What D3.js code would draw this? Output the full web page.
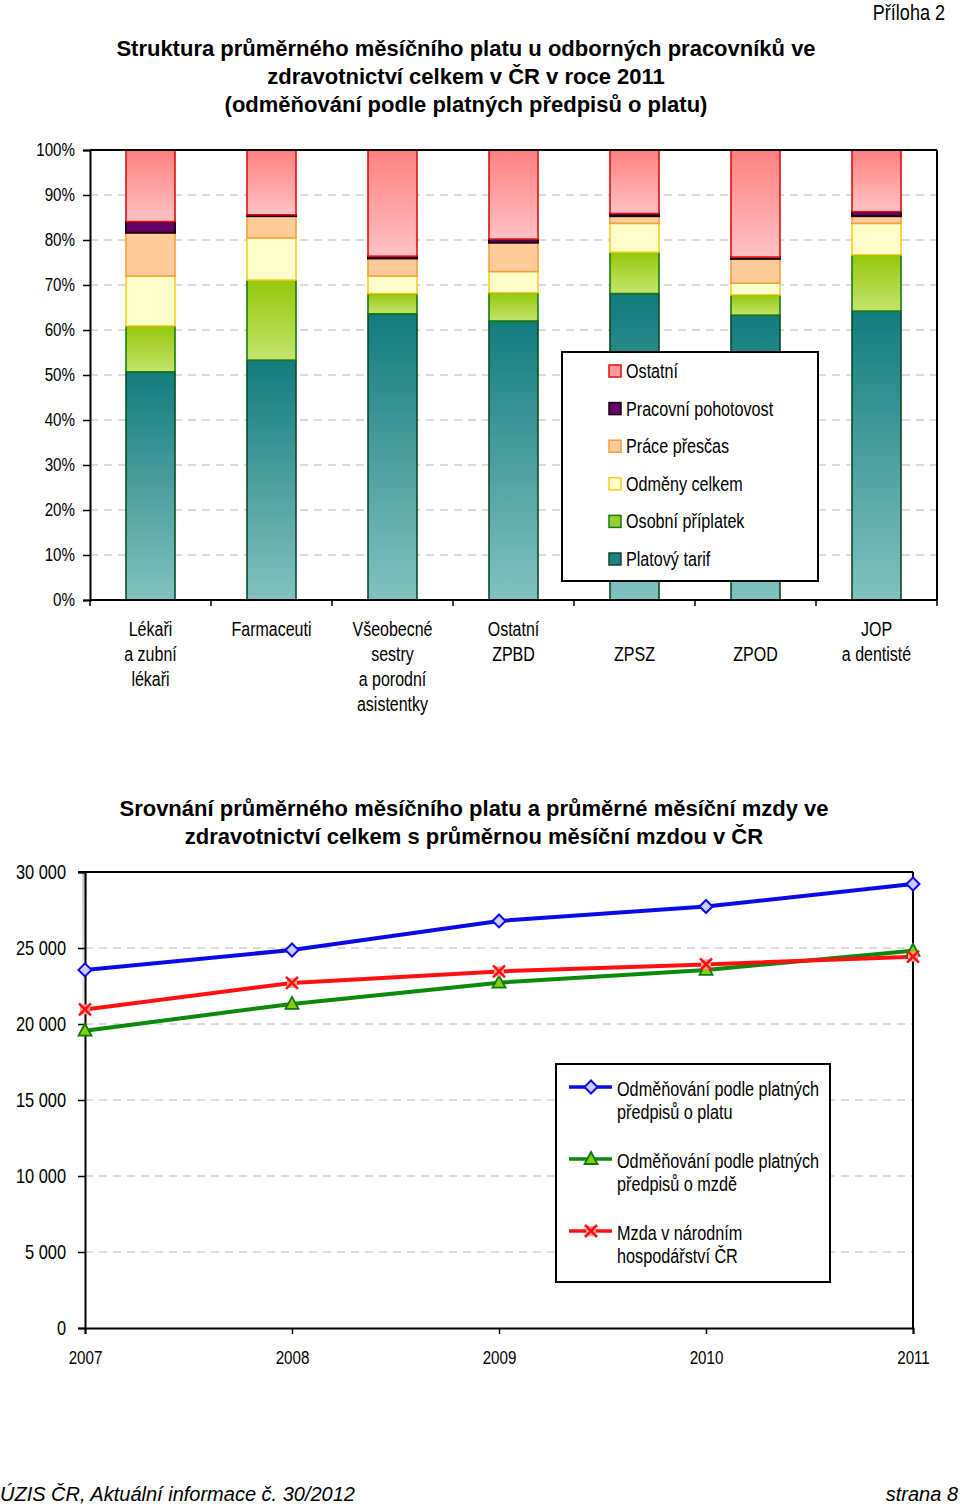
<!DOCTYPE html>
<html><head><meta charset="utf-8">
<script src="https://cdn.jsdelivr.net/npm/d3@7"></script>
<style>
body{margin:0;background:#fff;}
svg{display:block;}
</style></head>
<body>
<script>
// ---------- DATA ----------
const barCategories = [
  ["Lékaři","a zubní","lékaři"],
  ["Farmaceuti"],
  ["Všeobecné","sestry","a porodní","asistentky"],
  ["Ostatní","ZPBD"],
  ["","ZPSZ"],
  ["","ZPOD"],
  ["JOP","a dentisté"]
];
const seriesNames = ["Platový tarif","Osobní příplatek","Odměny celkem","Práce přesčas","Pracovní pohotovost","Ostatní"];
const platovyTarif      = [50.7, 53.3, 63.6, 62.0, 68.1, 63.3, 64.2];
const osobniPriplatek   = [10.2, 17.8,  4.5,  6.3,  9.2,  4.5, 12.5];
const odmenyCelkem      = [11.1,  9.4,  3.9,  4.7,  6.4,  2.6,  7.0];
const pracePrescas      = [ 9.6,  4.8,  3.9,  6.4,  1.6,  5.4,  1.6];
const pracovniPohotovost= [ 2.5,  0.3,  0.5,  0.8,  0.6,  0.4,  1.0];
const ostatni           = [15.9, 14.4, 23.6, 19.8, 14.1, 23.8, 13.7];
const pctTicks = ["0%","10%","20%","30%","40%","50%","60%","70%","80%","90%","100%"];

const years = ["2007","2008","2009","2010","2011"];
const lineNames = [["Odměňování podle platných","předpisů o platu"],["Odměňování podle platných","předpisů o mzdě"],["Mzda v národním","hospodářství ČR"]];
const platValues = [23560, 24870, 26780, 27730, 29210];
const mzdaValues = [19560, 21320, 22720, 23560, 24820];
const narodValues = [20960, 22700, 23460, 23920, 24430];
const wageTicks = [0, 5000, 10000, 15000, 20000, 25000, 30000];

// ---------- SETUP ----------
const W = 960, H = 1507;
const SX = 0.82; // horizontal squeeze to emulate Arial Narrow
const sans = "'Liberation Sans',Arial,sans-serif";
const svg = d3.select("body").append("svg").attr("width", W).attr("height", H);
const defs = svg.append("defs");

function ntext(parent, x, y, str, size, anchor){
  const g = parent.append("g").attr("transform", `translate(${x},${y}) scale(${SX},1)`);
  g.append("text").attr("text-anchor", anchor||"start")
    .style("font-family", sans).style("font-size", size+"px").attr("fill","#000").text(str);
  return g;
}
function narrowAxisText(sel, size){
  sel.selectAll(".tick text").each(function(){
    const x = +(this.getAttribute("x")||0);
    this.setAttribute("x", x/SX);
    this.setAttribute("transform", `scale(${SX},1)`);
  }).style("font-family", sans).style("font-size", size+"px").attr("fill","#000");
}

function vgrad(id, top, bottom){
  const g = defs.append("linearGradient").attr("id", id).attr("x1",0).attr("y1",0).attr("x2",0).attr("y2",1);
  g.append("stop").attr("offset","0%").attr("stop-color",top);
  g.append("stop").attr("offset","100%").attr("stop-color",bottom);
}
vgrad("gTarif", "#127c7c", "#82c2c0");
vgrad("gOsobni", "#95c80a", "#c4e46e");
vgrad("gOstatni", "#ff8080", "#ffc2c4");
vgrad("gAxisShade", "#bdbdbd", "#ffffff");

const fills = ["url(#gTarif)","url(#gOsobni)","#ffffcc","#ffcc99","#660066","url(#gOstatni)"];
const strokes = ["#0a4a26","#1a7a10","#f5d020","#f0a040","#1a0010","#e01010"];
const legendFills = ["#1e8080","#99cc33","#ffffcc","#ffcc99","#660066","#ff9999"];

// ---------- TEXT: header ----------
ntext(svg, 945, 20, "Příloha 2", 22, "end");
const t1 = ["Struktura průměrného měsíčního platu u odborných pracovníků ve","zdravotnictví celkem v ČR v roce 2011","(odměňování podle platných předpisů o platu)"];
t1.forEach((s,i)=> svg.append("text").attr("x",466).attr("y",56+i*28).attr("text-anchor","middle")
  .style("font-family",sans).style("font-weight","bold").style("font-size","22px").text(s));

// ---------- BAR CHART ----------
const bx0 = 90, bx1 = 937, by0 = 150, by1 = 600;
const xb = d3.scaleBand().domain(d3.range(barCategories.length)).range([bx0,bx1]).paddingInner(0.595).paddingOuter(0.2975);
const xbOuter = d3.scaleBand().domain(d3.range(barCategories.length)).range([bx0,bx1]);
const yb = d3.scaleLinear().domain([0,100]).range([by1,by0]);

const gb = svg.append("g");
gb.selectAll("line.grid").data(d3.range(10,100,10)).join("line")
  .attr("x1",bx0).attr("x2",bx1).attr("y1",d=>yb(d)).attr("y2",d=>yb(d))
  .attr("stroke","#b8b8b8").attr("stroke-dasharray","8,6").attr("stroke-width",1);

const tableRows = barCategories.map((c,i)=>[platovyTarif[i],osobniPriplatek[i],odmenyCelkem[i],pracePrescas[i],pracovniPohotovost[i],ostatni[i]]);
const stacked = d3.stack().keys(d3.range(6))(tableRows);
stacked.forEach((layer,k)=>{
  gb.append("g").selectAll("rect").data(layer).join("rect")
    .attr("x",(d,i)=>xb(i)).attr("width",xb.bandwidth())
    .attr("y",d=>yb(d[1])).attr("height",d=>Math.max(0,yb(d[0])-yb(d[1])))
    .attr("fill",fills[k]).attr("stroke",strokes[k]).attr("stroke-width",k===4?2:1.6);
});

gb.append("line").attr("x1",bx0).attr("x2",bx1).attr("y1",by0).attr("y2",by0).attr("stroke","#000").attr("stroke-width",2);
gb.append("line").attr("x1",bx1).attr("x2",bx1).attr("y1",by0).attr("y2",by1).attr("stroke","#000").attr("stroke-width",2);

const yAxisB = d3.axisLeft(yb).tickValues(d3.range(0,101,10)).tickFormat((d,i)=>pctTicks[i]).tickSize(7).tickPadding(8);
gb.append("g").attr("transform",`translate(${bx0},0)`).call(yAxisB)
  .call(g=>{g.select(".domain").attr("stroke","#000").attr("stroke-width",2);
    g.selectAll(".tick line").attr("stroke","#000").attr("stroke-width",1.5);
    narrowAxisText(g, 18.5);});

const xAxisG = gb.append("g").attr("transform",`translate(0,${by1})`);
xAxisG.append("line").attr("x1",bx0).attr("x2",bx1).attr("stroke","#000").attr("stroke-width",2);
xAxisG.selectAll("line.tk").data(d3.range(barCategories.length+1)).join("line")
  .attr("x1",i=>i<barCategories.length?xbOuter(i):bx1).attr("x2",i=>i<barCategories.length?xbOuter(i):bx1)
  .attr("y1",0).attr("y2",6).attr("stroke","#000").attr("stroke-width",1.5);
barCategories.forEach((lines,i)=>{
  const cx = xbOuter(i)+xbOuter.bandwidth()/2;
  lines.forEach((ln,j)=> ntext(xAxisG, cx, 36+j*25, ln, 19.5, "middle"));
});

const lg = gb.append("g");
lg.append("rect").attr("x",562).attr("y",352).attr("width",256).attr("height",229).attr("fill","#fff").attr("stroke","#000").attr("stroke-width",2);
const legOrder = [5,4,3,2,1,0];
legOrder.forEach((k,r)=>{
  const cy = 371 + r*37.6;
  lg.append("rect").attr("x",609).attr("y",cy-6).attr("width",12).attr("height",12)
    .attr("fill",legendFills[k]).attr("stroke",strokes[k]).attr("stroke-width",1.5);
  ntext(lg, 626, cy+7, seriesNames[k], 19.7, "start");
});

// ---------- LINE CHART ----------
const t2 = ["Srovnání průměrného měsíčního platu a průměrné měsíční mzdy ve","zdravotnictví celkem s průměrnou měsíční mzdou v ČR"];
t2.forEach((s,i)=> svg.append("text").attr("x",474).attr("y",816+i*28).attr("text-anchor","middle")
  .style("font-family",sans).style("font-weight","bold").style("font-size","22px").text(s));

const lx0 = 85, lx1 = 913, ly0 = 872, ly1 = 1328;
const xl = d3.scalePoint().domain(years).range([lx0,lx1]);
const yl = d3.scaleLinear().domain([0,30000]).range([ly1,ly0]);
const gl = svg.append("g");

gl.append("rect").attr("x",82).attr("y",ly0).attr("width",5).attr("height",200).attr("fill","url(#gAxisShade)").attr("opacity",0.8);

gl.selectAll("line.grid").data(wageTicks.filter(d=>d>0&&d<30000)).join("line")
  .attr("x1",lx0).attr("x2",lx1).attr("y1",d=>yl(d)).attr("y2",d=>yl(d))
  .attr("stroke","#b8b8b8").attr("stroke-dasharray","8,6");
gl.append("line").attr("x1",78).attr("x2",lx1).attr("y1",ly0).attr("y2",ly0).attr("stroke","#000").attr("stroke-width",2);
gl.append("line").attr("x1",lx1).attr("x2",lx1).attr("y1",ly0).attr("y2",ly1).attr("stroke","#000").attr("stroke-width",2);

const fmt = d=> d===0 ? "0" : d3.format(",")(d).replace(",", " ");
gl.append("g").attr("transform",`translate(${lx0},0)`)
  .call(d3.axisLeft(yl).tickValues(wageTicks).tickFormat(fmt).tickSize(7).tickPadding(12))
  .call(g=>{g.select(".domain").attr("stroke","#000").attr("stroke-width",2);
    g.selectAll(".tick line").attr("stroke","#000").attr("stroke-width",1.5);
    narrowAxisText(g, 20);});
gl.append("g").attr("transform",`translate(0,${ly1})`)
  .call(d3.axisBottom(xl).tickSize(6).tickPadding(17))
  .call(g=>{g.select(".domain").attr("stroke","#000").attr("stroke-width",2);
    g.selectAll(".tick line").attr("stroke","#000").attr("stroke-width",1.5);
    narrowAxisText(g, 18.5);});

const lineSeries = [
  {vals: platValues, color:"#0a0ae6", mk:"diamond", mfill:"#ccccff", mstroke:"#0a0ae6"},
  {vals: mzdaValues, color:"#0a8a0a", mk:"triangle", mfill:"#88cc11", mstroke:"#0a7a0a"},
  {vals: narodValues, color:"#ff1010", mk:"x", mfill:"#ff9999", mstroke:"#ff1010"}
];
const lineGen = d3.line().x((d,i)=>xl(years[i])).y(d=>yl(d));

function marker(g, type, x, y, s){
  if(type==="diamond"){
    g.append("path").attr("d",`M${x},${y-6.5}L${x+6.5},${y}L${x},${y+6.5}L${x-6.5},${y}Z`)
      .attr("fill",s.mfill).attr("stroke",s.mstroke).attr("stroke-width",2);
  } else if(type==="triangle"){
    g.append("path").attr("d",`M${x},${y-7}L${x+6.5},${y+5}L${x-6.5},${y+5}Z`)
      .attr("fill",s.mfill).attr("stroke",s.mstroke).attr("stroke-width",1.8);
  } else {
    g.append("rect").attr("x",x-5).attr("y",y-5).attr("width",10).attr("height",10).attr("fill",s.mfill);
    g.append("path").attr("d",`M${x-6},${y-6}L${x+6},${y+6}M${x-6},${y+6}L${x+6},${y-6}`)
      .attr("stroke",s.mstroke).attr("stroke-width",2.5);
  }
}
[1,2,0].forEach(k=>{
  const s = lineSeries[k];
  gl.append("path").datum(s.vals).attr("d",lineGen).attr("fill","none").attr("stroke",s.color).attr("stroke-width",4);
});
[1,2,0].forEach(k=>{
  const s = lineSeries[k];
  s.vals.forEach((v,i)=>marker(gl, s.mk, xl(years[i]), yl(v), s));
});

const ll = gl.append("g");
ll.append("rect").attr("x",556).attr("y",1064).attr("width",274).attr("height",218).attr("fill","#fff").attr("stroke","#000").attr("stroke-width",2);
lineSeries.forEach((s,r)=>{
  const cy = 1087 + r*72;
  ll.append("line").attr("x1",569).attr("x2",612).attr("y1",cy).attr("y2",cy).attr("stroke",s.color).attr("stroke-width",3.6);
  marker(ll, s.mk, 591, cy, s);
  lineNames[r].forEach((ln,j)=> ntext(ll, 617, cy+9+j*23, ln, 19.8, "start"));
});

// ---------- FOOTER ----------
svg.append("text").attr("x",0).attr("y",1501).style("font-family",sans).style("font-style","italic").style("font-size","20px").text("ÚZIS ČR, Aktuální informace č. 30/2012");
svg.append("text").attr("x",958).attr("y",1501).attr("text-anchor","end").style("font-family",sans).style("font-style","italic").style("font-size","20px").text("strana 8");
</script>
</body></html>
